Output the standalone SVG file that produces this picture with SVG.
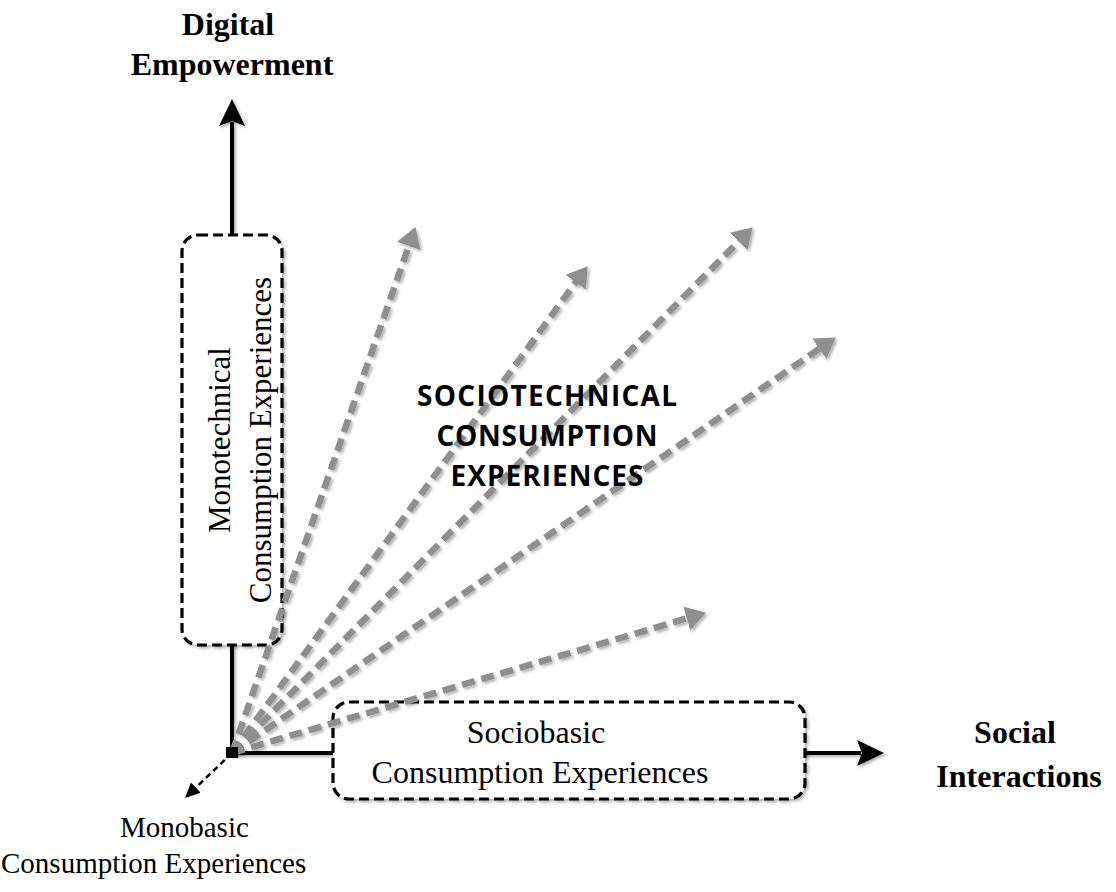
<svg xmlns="http://www.w3.org/2000/svg" width="1116" height="892" viewBox="0 0 1116 892">
  <style>
    .serif { font-family: "Liberation Serif", "Times New Roman", serif; fill: #000; }
    .label { font-size: 31px; }
    .small { font-size: 29px; }
    .big { font-size: 32px; }
    .axis-title { font-size: 32px; font-weight: bold; }
    .sans-bold { font-family: "Open Sans", "Liberation Sans", sans-serif; font-weight: bold; font-size: 28px; fill: #000; }
    .axis { stroke: #000; stroke-width: 4; fill: none; }
    .box { fill: #fff; stroke: #000; stroke-width: 3.2; stroke-dasharray: 10 5; }
    .ray { stroke: #8f8f8f; stroke-width: 6.5; stroke-dasharray: 13 7; fill: none; }
    .mono { stroke: #000; stroke-width: 2.5; stroke-dasharray: 6 4; fill: none; }
  </style>
  <defs>
    <filter id="shadow" x="-20%" y="-20%" width="140%" height="140%">
      <feDropShadow dx="2" dy="2" stdDeviation="1.8" flood-color="#000" flood-opacity="0.3"/>
    </filter>
    <marker id="blackHead" markerUnits="userSpaceOnUse" markerWidth="28" markerHeight="28" refX="4" refY="13" orient="auto">
      <path d="M0,0 L27,13 L0,26 L5,13 z" fill="#000"/>
    </marker>
    <marker id="grayHead" markerUnits="userSpaceOnUse" markerWidth="22" markerHeight="26" refX="1" refY="12.5" orient="auto">
      <path d="M0,0 L20,12.5 L0,25 z" fill="#8f8f8f"/>
    </marker>
    <marker id="smallHead" markerUnits="userSpaceOnUse" markerWidth="16" markerHeight="16" refX="1" refY="7" orient="auto">
      <path d="M0,0 L15,7 L0,14 z" fill="#000"/>
    </marker>
  </defs>

  <!-- axes -->
  <g id="connectors" filter="url(#shadow)">
    <line class="axis" x1="232" y1="753" x2="232" y2="122" marker-end="url(#blackHead)"/>
    <line class="axis" x1="232" y1="753" x2="861" y2="753" marker-end="url(#blackHead)"/>
  </g>

  <!-- monotechnical box on the vertical axis -->
  <g id="monotechnical" filter="url(#shadow)">
    <rect class="box" x="182" y="235" width="100" height="410" rx="16"/>
  </g>

  <!-- sociobasic box on the horizontal axis -->
  <g id="sociobasic" filter="url(#shadow)">
    <rect class="box" x="333" y="702" width="472" height="97" rx="16"/>
  </g>

  <!-- sociotechnical rays from the origin -->
  <g id="rays" filter="url(#shadow)">
    <line class="ray" x1="232" y1="753" x2="409.1" y2="245" marker-end="url(#grayHead)"/>
    <line class="ray" x1="232" y1="753" x2="576.4" y2="281.5" marker-end="url(#grayHead)"/>
    <line class="ray" x1="232" y1="753" x2="739.3" y2="240.8" marker-end="url(#grayHead)"/>
    <line class="ray" x1="232" y1="753" x2="820.2" y2="348.2" marker-end="url(#grayHead)"/>
    <line class="ray" x1="232" y1="753" x2="687.7" y2="618.1" marker-end="url(#grayHead)"/>
  </g>

  <!-- monobasic direction and origin marker -->
  <g id="monobasic">
    <line class="mono" x1="232" y1="753" x2="195.1" y2="788.3" marker-end="url(#smallHead)"/>
    <rect x="226" y="747" width="12" height="11" fill="#000"/>
    <text class="serif small">
      <tspan x="188" y="837" text-anchor="middle">Monobasic</tspan>
      <tspan x="1" y="873">Consumption Experiences</tspan>
    </text>
  </g>

  <!-- labels -->
  <g id="digital-empowerment">
    <text class="serif axis-title" text-anchor="middle">
      <tspan x="232" y="35">Digital</tspan>
      <tspan x="232" y="75">Empowerment</tspan>
    </text>
  </g>
  <g id="social-interactions">
    <text class="serif axis-title" text-anchor="middle">
      <tspan x="1019" y="743">Social</tspan>
      <tspan x="1019" y="787">Interactions</tspan>
    </text>
  </g>
  <g id="monotechnical-label">
    <text class="serif label" text-anchor="middle" transform="translate(230,440) rotate(-90)">Monotechnical</text>
    <text class="serif label" text-anchor="middle" transform="translate(271,440) rotate(-90)">Consumption Experiences</text>
  </g>
  <g id="sociobasic-label">
    <text class="serif big" text-anchor="middle">
      <tspan x="540" y="743">Sociobasic</tspan>
      <tspan x="540" y="783">Consumption Experiences</tspan>
    </text>
  </g>
  <g id="sociotechnical-label">
    <text class="sans-bold" text-anchor="middle" x="547" y="406" textLength="260" lengthAdjust="spacing">SOCIOTECHNICAL</text>
    <text class="sans-bold" text-anchor="middle" x="547" y="446" textLength="221" lengthAdjust="spacing">CONSUMPTION</text>
    <text class="sans-bold" text-anchor="middle" x="547" y="486" textLength="193" lengthAdjust="spacing">EXPERIENCES</text>
  </g>
</svg>
